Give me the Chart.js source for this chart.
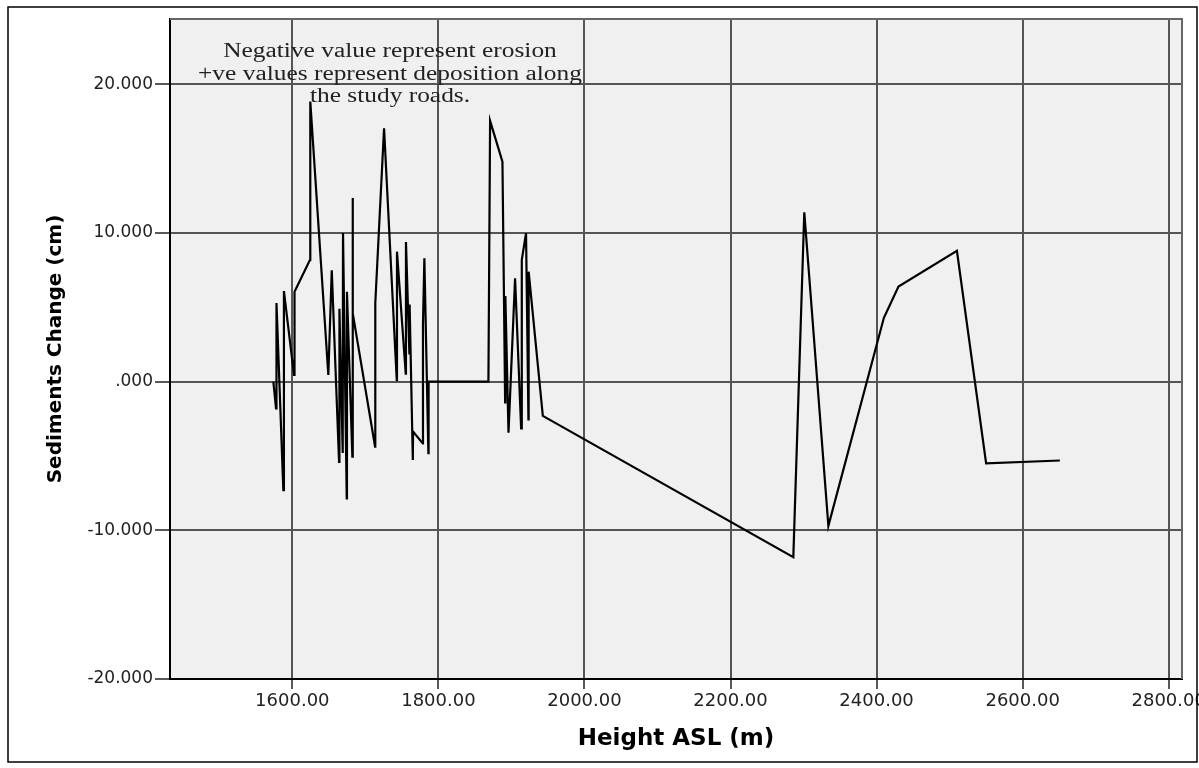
<!DOCTYPE html>
<html>
<head>
<meta charset="utf-8">
<script src="https://cdn.jsdelivr.net/npm/chart.js"></script>
<style>
  html, body { margin: 0; padding: 0; background: #fff; }
  #wrap { width: 1199px; height: 768px; position: relative; }
</style>
</head>
<body>
<div id="wrap"><canvas id="sedChart"></canvas></div>
<script>
/* ===========================
   DATA
=========================== */

const heightAsl = [
  1574, 1577.7, 1578.3, 1587.7, 1588.5, 1602.3, 1603, 1624.2, 1624.6, 1649.3,
  1654, 1664, 1664.5, 1669, 1669.4, 1674.5, 1674.8, 1682.2, 1682.5, 1683,
  1713.3, 1713.6, 1725.6, 1743, 1743.3, 1755.3, 1755.6, 1760.3, 1760.6, 1765,
  1765.3, 1778.6, 1778.9, 1780.8, 1786.3, 1786.6, 1868.5, 1870.8, 1887.7, 1891.4,
  1891.7, 1896, 1905, 1913.3, 1914.2, 1920, 1923.3, 1923.6, 1943, 2286,
  2301, 2334, 2410, 2430, 2510, 2550, 2651
];

const sedimentChange = [
  0.0, -1.8, 5.3, -7.3, 6.1, 0.45, 6.05, 8.2, 18.85, 0.45,
  7.5, -5.4, 4.9, -4.8, 10.0, -7.85, 6.05, -5.05, 12.35, 4.6,
  -4.37, 5.3, 17.05, 0.1, 8.75, 0.55, 9.4, 1.9, 5.2, -5.27,
  -3.36, -4.15, 3.9, 8.3, -4.8, 0.0, 0.0, 17.55, 14.8, -1.4,
  5.77, -3.43, 6.96, -3.14, 8.2, 10.0, -2.53, 7.4, -2.3, -11.8,
  11.4, -9.7, 4.3, 6.4, 8.8, -5.5, -5.3
];

const xTicks = [1600, 1800, 2000, 2200, 2400, 2600, 2800];
const yTicks = [-20, -10, 0, 10, 20];

const noteLines = [
  "Negative value represent erosion",
  "+ve values represent deposition along",
  "the study roads."
];

/* ===========================
   PLUGINS
=========================== */

// grey plot background
const plotBg = {
  id: "plotBg",
  beforeDraw(chart) {
    const { ctx, chartArea: a } = chart;
    ctx.save();
    ctx.fillStyle = "#f0f0f0";
    ctx.fillRect(a.left, a.top, a.right - a.left, a.bottom - a.top);
    ctx.restore();
  }
};

// top/right plot border, outer frame and the note text
const frameAndNote = {
  id: "frameAndNote",
  afterDraw(chart) {
    const { ctx, chartArea: a } = chart;
    ctx.save();
    ctx.strokeStyle = "#666";
    ctx.lineWidth = 2;
    ctx.beginPath();
    ctx.moveTo(a.left, a.top);
    ctx.lineTo(a.right, a.top);
    ctx.lineTo(a.right, a.bottom);
    ctx.stroke();

    ctx.strokeStyle = "#000";
    ctx.lineWidth = 1.5;
    ctx.strokeRect(8, 7, 1189, 755);

    ctx.fillStyle = "#222";
    ctx.font = "20px 'Liberation Serif', 'Times New Roman', serif";
    ctx.textAlign = "center";
    ctx.textBaseline = "alphabetic";
    noteLines.forEach((t, i) => {
      ctx.save();
      ctx.translate(390, 57 + i * 22.5);
      ctx.scale(1.27, 1);
      ctx.fillText(t, 0, 0);
      ctx.restore();
    });
    ctx.restore();
  }
};

/* ===========================
   LINE CHART
=========================== */

Chart.defaults.font.family = "'DejaVu Sans', sans-serif";

const ctx = document.getElementById("sedChart").getContext("2d");

new Chart(ctx, {
  type: "line",
  data: {
    datasets: [{
      label: "Sediments Change",
      data: heightAsl.map((h, i) => ({ x: h, y: sedimentChange[i] })),
      borderColor: "#000",
      borderWidth: 2.2,
      pointRadius: 0,
      tension: 0,
      fill: false
    }]
  },
  options: {
    responsive: true,
    maintainAspectRatio: false,
    animation: false,
    layout: { padding: { left: 8, top: 19, right: 17, bottom: 0 } },
    plugins: {
      legend: { display: false },
      tooltip: { enabled: false }
    },
    scales: {
      x: {
        type: "linear",
        min: 1432.5,
        max: 2818.2,
        afterBuildTicks: axis => { axis.ticks = xTicks.map(v => ({ value: v })); },
        afterFit: axis => {
          axis.height = 89;
          axis.paddingLeft = 0;
          axis.paddingRight = 0;
        },
        ticks: {
          color: "#222",
          font: { size: 18 },
          padding: 2,
          maxRotation: 0,
          autoSkip: false,
          callback: v => Number(v).toFixed(2)
        },
        grid: {
          color: "#555",
          lineWidth: 2,
          tickLength: 10,
          tickColor: "#222",
          tickWidth: 1.5
        },
        border: { display: true, color: "#000", width: 2 },
        title: {
          display: true,
          text: "Height ASL (m)",
          color: "#000",
          font: { size: 23, weight: "bold" },
          padding: { top: 0, bottom: 15 }
        }
      },
      y: {
        min: -20,
        max: 24.4,
        afterBuildTicks: axis => { axis.ticks = yTicks.map(v => ({ value: v })); },
        afterFit: axis => {
          axis.width = 162;
          axis.paddingTop = 0;
          axis.paddingBottom = 0;
        },
        ticks: {
          color: "#222",
          font: { size: 17 },
          padding: 2,
          callback: v => Number(v).toFixed(3).replace(/^(-?)0\./, "$1.")
        },
        grid: {
          color: "#555",
          lineWidth: 2,
          tickLength: 15,
          tickColor: "#222",
          tickWidth: 1.5
        },
        border: { display: true, color: "#000", width: 2 },
        title: {
          display: true,
          text: "Sediments Change (cm)",
          color: "#000",
          font: { size: 20, weight: "bold" },
          padding: { top: 36, bottom: 0 }
        }
      }
    }
  },
  plugins: [plotBg, frameAndNote]
});
</script>
</body>
</html>
